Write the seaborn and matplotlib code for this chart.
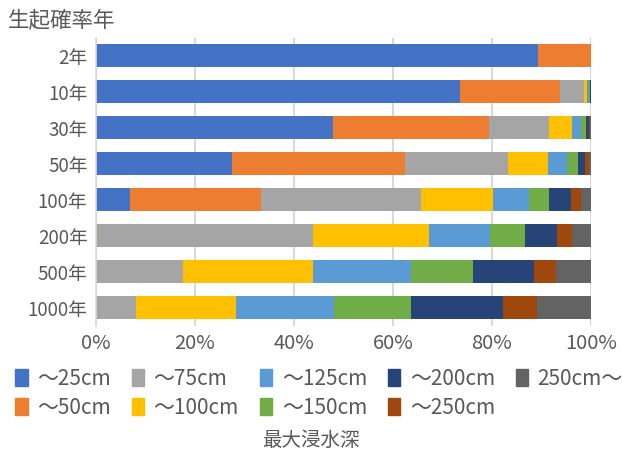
import numpy as np
import pandas as pd
import seaborn as sns
import matplotlib.pyplot as plt
from matplotlib.patches import Patch

years = ["2年", "10年", "30年", "50年", "100年", "200年", "500年", "1000年"]
depths = ["～25cm", "～50cm", "～75cm", "～100cm", "～125cm",
          "～150cm", "～200cm", "～250cm", "250cm～"]

# share (%) of each depth class per return period
d25 = [89.4, 73.6, 47.9, 27.6, 7.0, 0.0, 0.0, 0.0]
d50 = [10.6, 20.1, 31.5, 34.9, 26.3, 0.3, 0.1, 0.1]
d75 = [0.0, 4.9, 12.2, 20.7, 32.3, 43.5, 17.6, 8.1]
d100 = [0.0, 0.7, 4.6, 8.1, 14.6, 23.5, 26.1, 20.2]
d125 = [0.0, 0.3, 1.9, 3.8, 7.3, 12.3, 19.8, 19.7]
d150 = [0.0, 0.3, 0.9, 2.2, 4.1, 7.1, 12.5, 15.5]
d200 = [0.0, 0.1, 0.7, 1.6, 4.3, 6.5, 12.4, 18.6]
d250 = [0.0, 0.0, 0.2, 0.8, 2.1, 3.0, 4.4, 6.9]
d250p = [0.0, 0.0, 0.1, 0.3, 2.0, 3.8, 7.1, 10.9]

colors = ["#4472C4", "#ED7D31", "#A5A5A5", "#FFC000", "#5B9BD5",
          "#70AD47", "#264478", "#9E480E", "#636363"]

series = [d25, d50, d75, d100, d125, d150, d200, d250, d250p]
df = pd.DataFrame(np.array(series).T, columns=depths, index=years)
df = df.div(df.sum(axis=1), axis=0) * 100
cum = df.cumsum(axis=1)

sns.set_style("white")
plt.rcParams["font.family"] = ["Noto Sans CJK JP", "DejaVu Sans"]
txt = "#595959"

fig = plt.figure(figsize=(6.22, 4.5), dpi=100)
ax = fig.add_axes([0.154, 0.276, 0.796, 0.640])

# draw cumulative bars from the outermost class inward
for name, col in reversed(list(zip(depths, colors))):
    sns.barplot(x=cum[name].values, y=years, color=col, orient="h",
                width=0.65, ax=ax, saturation=1, linewidth=0)

ax.set_xlim(0, 100)
ax.set_xticks(np.arange(0, 101, 20))
ax.set_xticklabels([f"{v}%" for v in range(0, 101, 20)])
ax.grid(axis="x", color="#D9D9D9", linewidth=1.5)
ax.set_axisbelow(True)
for s in ["top", "right", "bottom"]:
    ax.spines[s].set_visible(False)
ax.spines["left"].set_color("#D9D9D9")
ax.spines["left"].set_linewidth(1.2)
ax.tick_params(axis="y", length=0, labelsize=13.5, colors=txt, pad=6)
ax.tick_params(axis="x", length=0, labelsize=14.5, colors=txt, pad=5)
ax.set_ylabel("")
ax.set_xlabel("")

fig.text(0.013, 0.955, "生起確率年", fontsize=15.5, color=txt, va="center", ha="left")

handles = [Patch(color=c, label=n) for n, c in zip(depths, colors)]
fig.legend(handles=handles, ncol=5, loc="center", bbox_to_anchor=(0.513, 0.126),
           frameon=False, fontsize=15, labelcolor=txt, handlelength=0.6,
           handleheight=0.85, handletextpad=0.45, columnspacing=1.0,
           labelspacing=0.35, borderpad=0.2)
fig.text(0.5, 0.022, "最大浸水深", fontsize=14, color=txt, ha="center", va="center")

fig.savefig("out.png", dpi=100)
